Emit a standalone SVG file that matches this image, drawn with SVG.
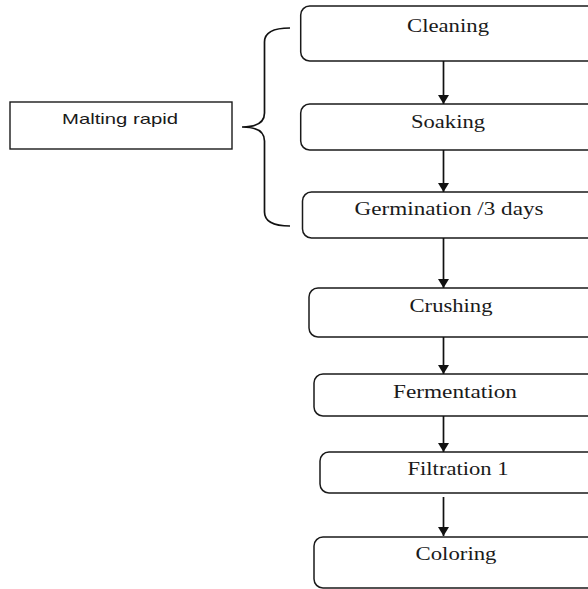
<svg xmlns="http://www.w3.org/2000/svg" width="588" height="589" viewBox="0 0 588 589">
<style>
.box{fill:#fff;stroke:#1a1a1a;stroke-width:1.5}
.t{font-family:"Liberation Serif","Times New Roman",serif;font-size:19px;fill:#1a1a1a;text-anchor:middle}
.s{font-family:"Liberation Sans",Arial,sans-serif;font-size:14.5px;fill:#1a1a1a;text-anchor:middle}
.c{stroke:#111;stroke-width:1.7;fill:none}
</style>
<defs>
<marker id="ah" markerWidth="9" markerHeight="11" refX="9" refY="5.5" orient="auto" markerUnits="userSpaceOnUse" viewBox="0 0 9 11">
<path d="M0,0 L9,5.5 L0,11 Z" fill="#111"/>
</marker>
</defs>
<rect width="588" height="589" fill="#fff"/>
<g id="malting"><rect x="10" y="102" width="222" height="47" fill="#fff" stroke="#1a1a1a" stroke-width="1.4"/><text class="s" x="120" y="124" textLength="116" lengthAdjust="spacingAndGlyphs">Malting rapid</text></g>
<g id="brace"><path class="c" stroke-width="1.3" d="M290,28 C275,28 264.5,31 264.5,42 L264.5,113 C264.5,122 258,127 242,127 C258,127 264.5,132 264.5,141 L264.5,212 C264.5,223 275,226 290,226"/></g>
<g id="cleaning"><rect class="box" x="300.7" y="6" width="300" height="55" rx="9"/><text class="t" x="448" y="32" textLength="82" lengthAdjust="spacingAndGlyphs">Cleaning</text></g>
<g id="soaking"><rect class="box" x="300.7" y="104" width="300" height="46" rx="9"/><text class="t" x="448" y="128" textLength="74" lengthAdjust="spacingAndGlyphs">Soaking</text></g>
<g id="germination"><rect class="box" x="302.5" y="192" width="300" height="46" rx="9"/><text class="t" x="449" y="215" textLength="189" lengthAdjust="spacingAndGlyphs">Germination /3 days</text></g>
<g id="crushing"><rect class="box" x="309" y="288" width="300" height="49" rx="9"/><text class="t" x="451" y="312" textLength="83" lengthAdjust="spacingAndGlyphs">Crushing</text></g>
<g id="fermentation"><rect class="box" x="314" y="374" width="300" height="42" rx="9"/><text class="t" x="455" y="398" textLength="124" lengthAdjust="spacingAndGlyphs">Fermentation</text></g>
<g id="filtration"><rect class="box" x="320" y="452" width="300" height="41" rx="9"/><text class="t" x="458" y="475" textLength="101" lengthAdjust="spacingAndGlyphs">Filtration 1</text></g>
<g id="coloring"><rect class="box" x="314" y="537" width="300" height="51" rx="9"/><text class="t" x="456" y="560" textLength="81" lengthAdjust="spacingAndGlyphs">Coloring</text></g>
<g id="connectors">
<line class="c" x1="443.5" y1="61" x2="443.5" y2="104" marker-end="url(#ah)"/>
<line class="c" x1="443.5" y1="150" x2="443.5" y2="192" marker-end="url(#ah)"/>
<line class="c" x1="443.5" y1="238" x2="443.5" y2="288" marker-end="url(#ah)"/>
<line class="c" x1="443.5" y1="337" x2="443.5" y2="374" marker-end="url(#ah)"/>
<line class="c" x1="443.5" y1="416" x2="443.5" y2="452" marker-end="url(#ah)"/>
<line class="c" x1="443.5" y1="497" x2="443.5" y2="536" marker-end="url(#ah)"/>
</g>
</svg>
